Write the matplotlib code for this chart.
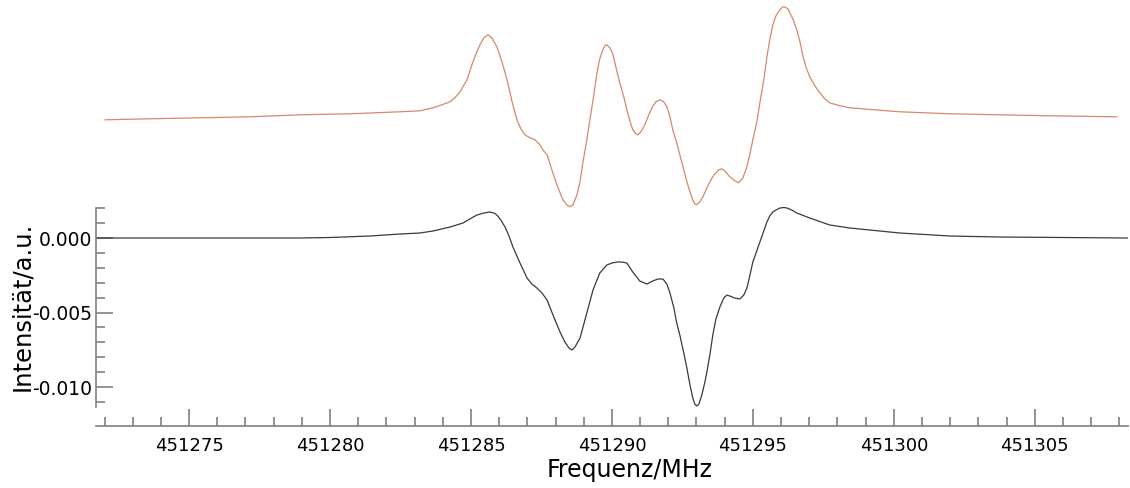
import numpy as np
import matplotlib
matplotlib.use("Agg")
import matplotlib.pyplot as plt
from matplotlib.ticker import FixedLocator, FormatStrFormatter

# simulated spectrum (black)
sim_freq = [451271.70, 451275.00, 451278.94, 451280.00, 451281.42, 451282.48,
            451283.19, 451283.65, 451284.26, 451284.72, 451284.96, 451285.21,
            451285.46, 451285.67, 451285.82, 451285.92, 451286.06, 451286.21,
            451286.35, 451286.49, 451286.74, 451286.99, 451287.16, 451287.34,
            451287.52, 451287.70, 451287.91, 451288.16, 451288.33, 451288.48,
            451288.58, 451288.69, 451288.87, 451289.11, 451289.33, 451289.47,
            451289.57, 451289.82, 451290.00, 451290.18, 451290.35, 451290.53,
            451290.74, 451290.99, 451291.24, 451291.45, 451291.63, 451291.81,
            451291.95, 451292.06, 451292.20, 451292.30, 451292.41, 451292.55,
            451292.66, 451292.77, 451292.87, 451292.94, 451293.01, 451293.09,
            451293.19, 451293.30, 451293.37, 451293.48, 451293.58, 451293.69,
            451293.83, 451293.97, 451294.08, 451294.18, 451294.36, 451294.54,
            451294.68, 451294.79, 451294.89, 451295.00, 451295.25, 451295.50,
            451295.60, 451295.71, 451295.82, 451295.96, 451296.10, 451296.21,
            451296.38, 451296.56, 451297.02, 451297.73, 451298.44, 451299.15,
            451300.21, 451301.99, 451303.76, 451308.30]
sim_int = [0.0, 0.0, 0.0, 0.000034, 0.000134, 0.000268,
           0.000336, 0.000470, 0.000738, 0.001007, 0.001275, 0.001544,
           0.001678, 0.001745, 0.001678, 0.001544, 0.001208, 0.000738,
           0.000134, -0.000604, -0.001678, -0.002684, -0.003087, -0.003356,
           -0.003691, -0.004161, -0.005168, -0.006309, -0.006979, -0.007382,
           -0.007516, -0.007315, -0.006711, -0.005033, -0.003490, -0.002819,
           -0.002349, -0.001812, -0.001678, -0.001611, -0.001611, -0.001678,
           -0.002282, -0.002886, -0.003087, -0.002886, -0.002752, -0.002752,
           -0.003087, -0.003691, -0.004698, -0.005705, -0.006510, -0.007718,
           -0.008724, -0.009865, -0.010737, -0.011140, -0.011274, -0.011140,
           -0.010536, -0.009664, -0.008993, -0.007785, -0.006510, -0.005436,
           -0.004631, -0.004027, -0.003825, -0.003892, -0.004027, -0.004094,
           -0.003825, -0.003356, -0.002550, -0.001611, -0.000268, 0.001074,
           0.001476, 0.001745, 0.001879, 0.002013, 0.002047, 0.002013,
           0.001879, 0.001678, 0.001342, 0.000872, 0.000671, 0.000537,
           0.000336, 0.000134, 0.000067, 0.0]

# measured spectrum (orange), relative to its own baseline
exp_freq = [451272.02, 451273.62, 451275.39, 451277.16, 451278.94, 451280.71,
            451282.48, 451283.19, 451283.65, 451283.97, 451284.26, 451284.43,
            451284.61, 451284.86, 451285.07, 451285.21, 451285.32, 451285.46,
            451285.60, 451285.74, 451285.92, 451286.10, 451286.28, 451286.45,
            451286.63, 451286.77, 451286.91, 451287.09, 451287.27, 451287.45,
            451287.55, 451287.70, 451287.87, 451288.05, 451288.26, 451288.40,
            451288.51, 451288.62, 451288.76, 451288.87, 451288.97, 451289.11,
            451289.22, 451289.36, 451289.47, 451289.57, 451289.68, 451289.75,
            451289.82, 451289.93, 451290.04, 451290.14, 451290.28, 451290.43,
            451290.53, 451290.64, 451290.74, 451290.85, 451290.92, 451291.03,
            451291.17, 451291.28, 451291.42, 451291.56, 451291.70, 451291.84,
            451291.95, 451292.06, 451292.16, 451292.30, 451292.41, 451292.55,
            451292.66, 451292.77, 451292.87, 451292.94, 451293.01, 451293.12,
            451293.23, 451293.37, 451293.48, 451293.62, 451293.72, 451293.79,
            451293.90, 451294.04, 451294.18, 451294.36, 451294.50, 451294.65,
            451294.79, 451294.89, 451295.00, 451295.14, 451295.25, 451295.39,
            451295.50, 451295.60, 451295.71, 451295.82, 451295.96, 451296.06,
            451296.13, 451296.24, 451296.42, 451296.56, 451296.67, 451296.77,
            451296.88, 451297.02, 451297.20, 451297.38, 451297.55, 451297.73,
            451298.09, 451298.44, 451299.33, 451300.21, 451301.99, 451303.76,
            451305.53, 451307.91]
exp_int = [-0.000067, 0.0, 0.000067, 0.000134, 0.000268, 0.000336,
           0.000470, 0.000537, 0.000738, 0.000940, 0.001141, 0.001409,
           0.001812, 0.002617, 0.003825, 0.004496, 0.004966, 0.005436,
           0.005637, 0.005436, 0.004832, 0.003825, 0.002617, 0.001208,
           -0.000067, -0.000671, -0.001074, -0.001275, -0.001409, -0.001745,
           -0.002080, -0.002416, -0.003423, -0.004429, -0.005436, -0.005771,
           -0.005906, -0.005771, -0.005100, -0.004228, -0.002953, -0.001409,
           -0.000067, 0.001611, 0.003087, 0.004027, 0.004631, 0.004899,
           0.004966, 0.004765, 0.004295, 0.003490, 0.002416, 0.001409,
           0.000604, -0.000134, -0.000738, -0.001007, -0.001074, -0.000872,
           -0.000403, 0.000134, 0.000738, 0.001141, 0.001275, 0.001141,
           0.000805, 0.000134, -0.000738, -0.001611, -0.002416, -0.003423,
           -0.004228, -0.004899, -0.005436, -0.005704, -0.005771, -0.005570,
           -0.005235, -0.004631, -0.004228, -0.003758, -0.003557, -0.003423,
           -0.003356, -0.003557, -0.003892, -0.004161, -0.004295, -0.003959,
           -0.003221, -0.002416, -0.001409, -0.000201, 0.001074, 0.002617,
           0.004161, 0.005302, 0.006308, 0.006912, 0.007315, 0.007516,
           0.007516, 0.007382, 0.006711, 0.005973, 0.005167, 0.004295,
           0.003490, 0.002819, 0.002215, 0.001745, 0.001342, 0.001074,
           0.000872, 0.000738, 0.000604, 0.000470, 0.000336, 0.000268,
           0.000201, 0.000134]

plt.rcParams["font.family"] = "DejaVu Sans"
plt.rcParams["axes.unicode_minus"] = False

fig = plt.figure(figsize=(11.3, 4.88), dpi=100)
ax = fig.add_axes([0.085, 0.127, 0.913, 0.873])

ax.plot(sim_freq, sim_int, color="#3a3a3a", lw=0.9)
ax.plot(exp_freq, np.array(exp_int) + 0.0080, color="#D4896B", lw=0.9)

ax.set_xlim(451271.7, 451308.3)
ax.set_ylim(-0.012617, 0.015972)

grey = "#808080"
for s in ["top", "right"]:
    ax.spines[s].set_visible(False)
ax.spines["left"].set_bounds(-0.01134, 0.00201)
ax.spines["left"].set_color(grey)
ax.spines["bottom"].set_color(grey)
ax.spines["left"].set_linewidth(1.2)
ax.spines["bottom"].set_linewidth(1.2)

ax.xaxis.set_major_locator(FixedLocator(np.arange(451275, 451306, 5)))
ax.xaxis.set_minor_locator(FixedLocator(np.arange(451272, 451309, 1)))
ax.xaxis.set_major_formatter(FormatStrFormatter("%d"))
ax.yaxis.set_major_locator(FixedLocator([-0.010, -0.005, 0.0]))
ax.yaxis.set_minor_locator(FixedLocator(np.arange(-0.011, 0.0025, 0.001)))
ax.yaxis.set_major_formatter(FormatStrFormatter("%.3f"))

ax.tick_params(which="both", direction="in", color=grey, width=1.2, labelsize=13)
ax.tick_params(which="major", length=12)
ax.tick_params(which="minor", length=6.5)
ax.tick_params(axis="x", pad=8)
ax.tick_params(axis="y", pad=3, labelsize=13.5)

ax.set_xlabel("Frequenz/MHz", fontsize=17)
ax.set_ylabel("Intensität/a.u.", fontsize=17.5)
ax.xaxis.set_label_coords(0.517, -0.075)
ax.yaxis.set_label_coords(-0.060, 0.282)

fig.savefig("out.png", dpi=100)
